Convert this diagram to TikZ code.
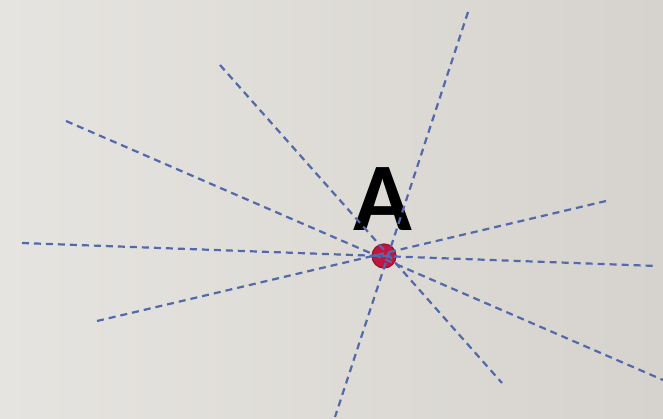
\documentclass[tikz,border=0pt]{standalone}
\usepackage{fontspec}
\newfontfamily\labelfont{Carlito}
\begin{document}
\begin{tikzpicture}[x=1pt,y=-1pt,
  ray/.style={draw=rayblue,line width=2.2pt,dash pattern=on 7pt off 5pt},
  dotstyle/.style={circle,fill=dotred,draw=dotdark,line width=1.2pt,minimum size=24pt,inner sep=0pt}]
\definecolor{rayblue}{HTML}{5269AA}
\definecolor{dotred}{HTML}{C0163F}
\definecolor{dotdark}{HTML}{9A0F30}
\definecolor{bgl}{HTML}{E6E4E0}
\definecolor{bgr}{HTML}{D6D3CE}
\shade[left color=bgl,right color=bgr] (0,0) rectangle (663,419);
\useasboundingbox (0,0) rectangle (663,419);
\node[dotstyle] (p) at (384,256) {};
\node[font=\labelfont\bfseries\fontsize{97}{97}\selectfont,inner sep=0pt] (lab) at (383,199) {A};
\coordinate (a1) at (468,12);  \coordinate (a2) at (335,417);
\coordinate (b1) at (220,65);  \coordinate (b2) at (502,383);
\coordinate (c1) at (66,121);  \coordinate (c2) at (663,380);
\coordinate (d1) at (22,243);  \coordinate (d2) at (657,266);
\coordinate (e1) at (97,321);  \coordinate (e2) at (606,201);
\draw[ray] (a1) -- (a2);
\draw[ray] (b1) -- (b2);
\draw[ray] (c1) -- (c2);
\draw[ray] (d1) -- (d2);
\draw[ray] (e1) -- (e2);
\end{tikzpicture}
\end{document}
